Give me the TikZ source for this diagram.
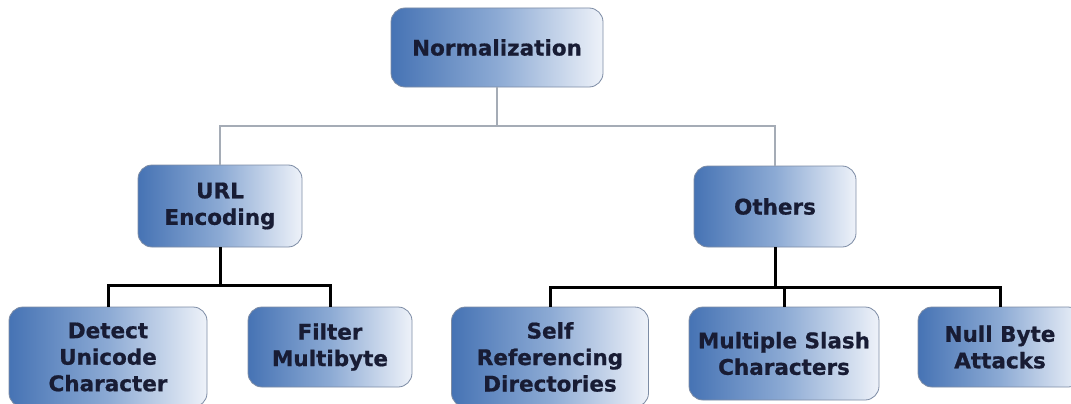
\documentclass[tikz,border=0pt]{standalone}
\usepackage{fontspec}
\setmainfont[BoldFeatures={FakeBold=0.8}]{DejaVu Sans}
\definecolor{boxdark}{RGB}{70,115,180}
\definecolor{boxmid}{RGB}{140,170,212}
\definecolor{boxlight}{RGB}{238,242,249}
\definecolor{boxedge}{RGB}{125,140,165}
\definecolor{txt}{RGB}{24,28,52}
\definecolor{topline}{RGB}{165,172,182}
\tikzset{
  x=1pt,y=1pt,
  cbox/.style={draw=boxedge, line width=0.8pt, rounded corners=14pt,
    left color=boxdark, right color=boxlight, middle color=boxmid,
    text=txt, font=\fontsize{21.5}{26.5}\selectfont\bfseries, align=center,
    inner sep=0pt},
  upper/.style={draw=topline, line width=1.5pt},
  lower/.style={draw=black, line width=3pt},
}
\begin{document}
\begin{tikzpicture}
\useasboundingbox (0,0) rectangle (1071,-404);
\clip (0,0) rectangle (1071,-404);
\fill[white] (0,0) rectangle (1071,-404);
\coordinate (j1) at (497,-126);
\coordinate (j2) at (220,-285);
\coordinate (j3) at (775,-287);
% nodes
\node[cbox, minimum width=212, minimum height=79] (norm) at (497,-47.5) {Normalization};
\node[cbox, minimum width=164, minimum height=82] (url) at (220,-206) {URL\\Encoding};
\node[cbox, minimum width=162, minimum height=81] (oth) at (775,-206.5) {Others};
\node[cbox, minimum width=198, minimum height=100] (det) at (108,-357) {Detect\\Unicode\\Character};
\node[cbox, minimum width=164, minimum height=80] (fil) at (330,-347) {Filter\\Multibyte};
\node[cbox, minimum width=197, minimum height=100] (self) at (550,-357) {Self\\Referencing\\Directories};
\node[cbox, minimum width=190, minimum height=93] (mul) at (784,-353.5) {Multiple Slash\\Characters};
\node[cbox, minimum width=164, minimum height=80] (nul) at (1000,-347) {Null Byte\\Attacks};
% connectors
\draw[upper] (norm.south) -- (j1) -| (url.north);
\draw[upper] (j1) -| (oth.north);
\draw[lower] (url.south) -- (j2) -| (det.north);
\draw[lower] (j2) -| (fil.north);
\draw[lower] (oth.south) -- (j3) -| (self.north);
\draw[lower] (j3) -| (mul.north);
\draw[lower] (j3) -| (nul.north);
\end{tikzpicture}
\end{document}
